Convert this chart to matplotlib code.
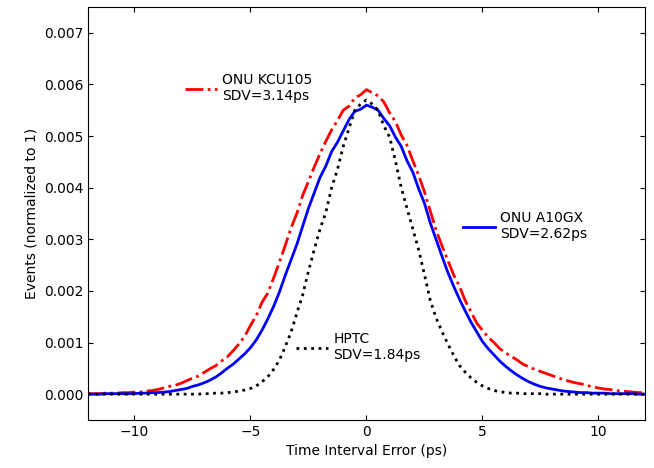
import numpy as np
import matplotlib
matplotlib.use("Agg")
import matplotlib.pyplot as plt
from matplotlib.legend import Legend
from matplotlib.ticker import FormatStrFormatter

# time interval error bins (ps), 0.25 ps spacing
tie_ps = np.linspace(-12, 12, 97)

# ONU KCU105, SDV=3.14ps
kcu105 = [
    0.00001, 0.00001, 0.00001, 0.00002, 0.00002, 0.00002, 0.00003, 0.00003,
    0.00004, 0.00004, 0.00006, 0.00007, 0.00009, 0.00012, 0.00015, 0.00017,
    0.00021, 0.00026, 0.00031, 0.00035, 0.00042, 0.00049, 0.00055, 0.00064,
    0.00072, 0.00084, 0.00097, 0.00112, 0.00133, 0.00152, 0.00178, 0.00196,
    0.00225, 0.00256, 0.00288, 0.00322, 0.00350, 0.00385, 0.00412, 0.00440,
    0.00466, 0.00490, 0.00512, 0.00530, 0.00550, 0.00558, 0.00574, 0.00580,
    0.00590,
    0.00584, 0.00578, 0.00566, 0.00545, 0.00528, 0.00502, 0.00482, 0.00452,
    0.00424, 0.00392, 0.00355, 0.00318, 0.00288, 0.00260, 0.00232, 0.00210,
    0.00182, 0.00160, 0.00138, 0.00124, 0.00110, 0.00100, 0.00088, 0.00080,
    0.00073, 0.00066, 0.00058, 0.00053, 0.00048, 0.00044, 0.00040, 0.00036,
    0.00032, 0.00028, 0.00025, 0.00022, 0.00020, 0.00017, 0.00014, 0.00012,
    0.00010, 0.00009, 0.00007, 0.00006, 0.00005, 0.00004, 0.00003, 0.00003,
]

# ONU A10GX, SDV=2.62ps
a10gx = [
    0.0, 0.0, 0.0, 0.00001, 0.00001, 0.00001, 0.00001, 0.00001,
    0.00001, 0.00002, 0.00002, 0.00003, 0.00003, 0.00004, 0.00005, 0.00007,
    0.00009, 0.00011, 0.00015, 0.00018, 0.00022, 0.00027, 0.00033, 0.00041,
    0.00050, 0.00058, 0.00068, 0.00078, 0.00090, 0.00105, 0.00124, 0.00146,
    0.00170, 0.00198, 0.00230, 0.00260, 0.00290, 0.00325, 0.00360, 0.00390,
    0.00420, 0.00442, 0.00470, 0.00488, 0.00510, 0.00532, 0.00548, 0.00552,
    0.00560,
    0.00556, 0.00550, 0.00534, 0.00520, 0.00498, 0.00480, 0.00452, 0.00430,
    0.00398, 0.00370, 0.00332, 0.00300, 0.00268, 0.00237, 0.00210, 0.00185,
    0.00162, 0.00140, 0.00121, 0.00102, 0.00088, 0.00076, 0.00064, 0.00054,
    0.00045, 0.00037, 0.00030, 0.00024, 0.00019, 0.00015, 0.00012, 0.00010,
    0.00008, 0.00006, 0.00005, 0.00004, 0.00003, 0.00003, 0.00002, 0.00002,
    0.00002, 0.00001, 0.00001, 0.00001, 0.00001, 0.00001, 0.0, 0.0,
]

# HPTC, SDV=1.84ps
hptc = [
    0.0, 0.0, 0.0, 0.0, 0.0, 0.0, 0.0, 0.0,
    0.0, 0.0, 0.0, 0.0, 0.0, 0.0, 0.0, 0.0,
    0.0, 0.0, 0.0, 0.0, 0.00001, 0.00001, 0.00002, 0.00002,
    0.00003, 0.00004, 0.00006, 0.00008, 0.00011, 0.00016, 0.00024, 0.00034,
    0.00048, 0.00066, 0.00092, 0.00120, 0.00157, 0.00192, 0.00238, 0.00280,
    0.00320, 0.00352, 0.00400, 0.00435, 0.00480, 0.00515, 0.00550, 0.00562,
    0.00570,
    0.00562, 0.00550, 0.00520, 0.00498, 0.00452, 0.00400, 0.00360, 0.00320,
    0.00280, 0.00232, 0.00182, 0.00148, 0.00122, 0.00098, 0.00076, 0.00056,
    0.00043, 0.00032, 0.00023, 0.00016, 0.00011, 0.00007, 0.00005, 0.00003,
    0.00002, 0.00002, 0.00001, 0.00001, 0.00001, 0.00001, 0.0, 0.0,
    0.0, 0.0, 0.0, 0.0, 0.0, 0.0, 0.0, 0.0,
    0.0, 0.0, 0.0, 0.0, 0.0, 0.0, 0.0, 0.0,
]

series = [
    (kcu105, "ONU KCU105\nSDV=3.14ps", "red", "-.", (0.174, 0.804)),
    (a10gx, "ONU A10GX\nSDV=2.62ps", "blue", "-", (0.673, 0.470)),
    (hptc, "HPTC\nSDV=1.84ps", "black", ":", (0.373, 0.177)),
]

fig = plt.figure(figsize=(6.54, 4.68), dpi=100)
ax = fig.add_axes([0.1346, 0.1026, 0.8514, 0.8824])

for values, label, color, style, anchor in series:
    line, = ax.plot(tie_ps, values, color=color, linestyle=style, linewidth=2)
    # one small legend beside each curve
    leg = Legend(ax, [line], [label], loc="center left", bbox_to_anchor=anchor,
                 frameon=False, fontsize=10, handlelength=2.3,
                 handletextpad=0.4, borderpad=0, borderaxespad=0)
    ax.add_artist(leg)

ax.set_xlim(-12, 12)
ax.set_ylim(-0.0005, 0.0075)
ax.set_xticks([-10, -5, 0, 5, 10])
ax.set_yticks(np.arange(0, 0.0071, 0.001))
ax.yaxis.set_major_formatter(FormatStrFormatter("%.3f"))
ax.tick_params(direction="in", top=True, right=True, labelsize=10)
ax.set_xlabel("Time Interval Error (ps)", fontsize=10)
ax.set_ylabel("Events (normalized to 1)", fontsize=10)

fig.savefig("out.png", dpi=100)
